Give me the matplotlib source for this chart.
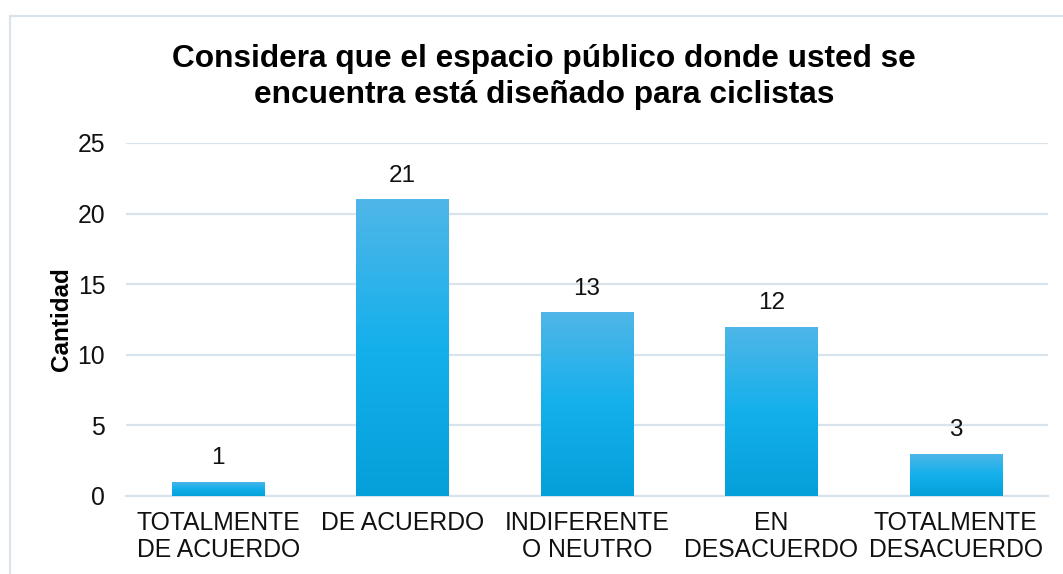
import matplotlib.pyplot as plt
import numpy as np
from matplotlib.colors import LinearSegmentedColormap
from matplotlib.lines import Line2D

plt.rcParams['font.family'] = ['Liberation Sans', 'DejaVu Sans']

# --- data ---
categories = ["TOTALMENTE\nDE ACUERDO", "DE ACUERDO", "INDIFERENTE\nO NEUTRO",
              "EN\nDESACUERDO", "TOTALMENTE\nDESACUERDO"]
counts = [1, 21, 13, 12, 3]
title = "Considera que el espacio público donde usted se\nencuentra está diseñado para ciclistas"
ylabel = "Cantidad"

grid_color = "#D9E3EC"
# gradient top -> bottom
bar_cmap = LinearSegmentedColormap.from_list("bars", ["#05A0DA", "#14B0EC", "#50B6E8"])

fig = plt.figure(figsize=(10.63, 5.74), dpi=100)
ax = fig.add_axes([0.1185, 0.1359, 0.8674, 0.615])

x = np.arange(len(categories))
bars = ax.bar(x, counts, width=0.5, color="none", edgecolor="none", zorder=3)

grad = np.linspace(0, 1, 256).reshape(-1, 1)
for b in bars:
    x0, w, h = b.get_x(), b.get_width(), b.get_height()
    im = ax.imshow(grad, cmap=bar_cmap, origin="lower", aspect="auto",
                   extent=[x0, x0 + w, 0, h], zorder=3)
    im.set_clip_path(b)

for xi, v in zip(x, counts):
    ax.annotate(str(v), (xi, v), xytext=(0, 9), textcoords="offset points",
                ha="center", va="bottom", fontsize=17.5, color="#111111")

ax.set_xlim(-0.5, len(categories) - 0.5)
ax.set_ylim(0, 25)
ax.set_yticks(range(0, 26, 5))
ax.set_xticks(x)
ax.set_xticklabels(categories, fontsize=17.8, linespacing=1.12, color="#111111")
ax.tick_params(axis="y", labelsize=17.8, labelcolor="#111111", length=0, pad=15)
ax.tick_params(axis="x", length=0, pad=11)
ax.yaxis.grid(True, color=grid_color, linewidth=1.6, zorder=0)
ax.set_axisbelow(True)
for s in ["top", "right", "left"]:
    ax.spines[s].set_visible(False)
ax.spines["bottom"].set_color(grid_color)
ax.spines["bottom"].set_linewidth(1.6)

ax.set_ylabel(ylabel, fontsize=17.5, fontweight="bold", labelpad=3)
fig.text(0.512, 0.866, title, ha="center", va="center", fontsize=22.8,
         fontweight="bold", linespacing=1.25)

# chart frame
fig.add_artist(Line2D([0.0094, 0.0094], [0, 0.972], color=grid_color, lw=1.5))
fig.add_artist(Line2D([0.0094, 1], [0.972, 0.972], color=grid_color, lw=1.5))

fig.savefig("out.png", dpi=100)
